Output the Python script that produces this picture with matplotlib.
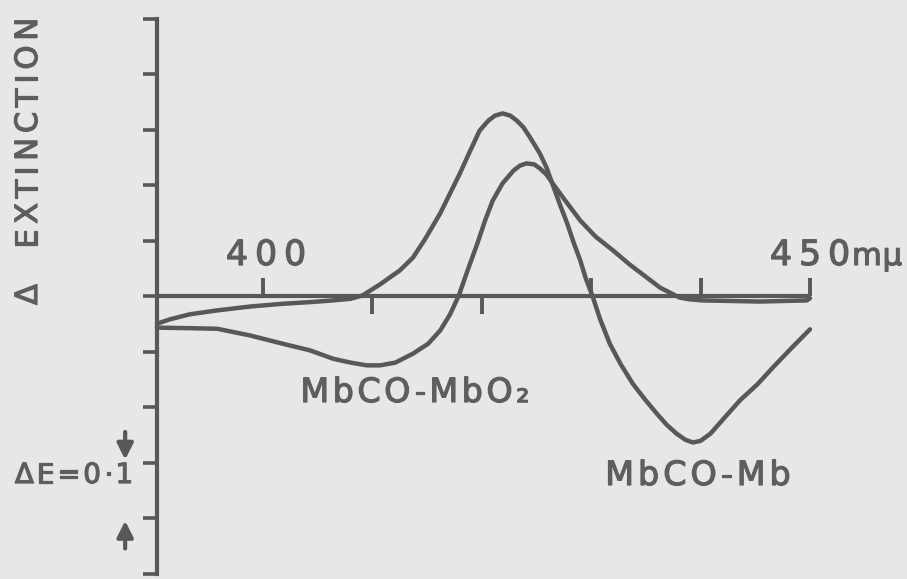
import matplotlib
matplotlib.use("Agg")
import matplotlib.pyplot as plt
from matplotlib.font_manager import FontProperties
from matplotlib.transforms import IdentityTransform
import matplotlib.patheffects as pe
import numpy as np

# ---- data ----
wl_mbo2 = [390.3, 393.3, 395.8, 398.8, 401.8, 404.3, 406.4, 408.0, 409.5, 410.7,
           412.1, 413.7, 415.1, 416.2, 417.1, 417.9, 418.7, 419.6, 420.3, 421.0,
           421.9, 422.9, 423.5, 424.1, 424.8, 425.3, 425.9, 426.4, 427.7, 429.0,
           430.4, 432.0, 433.5, 435.1, 436.3, 437.2, 438.1, 439.0, 440.2, 445.4,
           449.7, 450.0]
val_mbo2 = [-0.057, -0.058, -0.059, -0.071, -0.086, -0.098, -0.113, -0.120, -0.125, -0.125,
            -0.120, -0.104, -0.086, -0.062, -0.033, 0.001, 0.046, 0.095, 0.136, 0.172,
            0.203, 0.226, 0.235, 0.239, 0.237, 0.230, 0.219, 0.205, 0.170, 0.136,
            0.107, 0.082, 0.057, 0.033, 0.015, 0.006, -0.003, -0.006, -0.008, -0.010,
            -0.008, -0.004]

wl_mb = [390.3, 391.5, 393.3, 395.8, 398.8, 401.8, 404.3, 406.4, 408.0, 409.1,
         410.7, 412.5, 413.7, 414.8, 416.2, 417.1, 418.0, 418.9, 419.8, 420.6,
         421.2, 421.9, 422.6, 423.2, 423.8, 424.4, 425.3, 425.9, 426.4, 427.1,
         427.8, 428.4, 429.0, 429.5, 430.1, 430.8, 431.7, 432.7, 433.8, 434.9,
         436.0, 436.9, 437.8, 438.6, 439.3, 440.0, 440.9, 442.2, 443.6, 445.2,
         446.6, 448.2, 450.0]
val_mb = [-0.050, -0.042, -0.033, -0.026, -0.019, -0.014, -0.011, -0.008, -0.005, 0.001,
          0.021, 0.046, 0.069, 0.102, 0.149, 0.185, 0.221, 0.260, 0.298, 0.316,
          0.325, 0.329, 0.325, 0.316, 0.304, 0.286, 0.257, 0.232, 0.205, 0.167,
          0.131, 0.096, 0.064, 0.032, 0.001, -0.041, -0.086, -0.123, -0.158, -0.186,
          -0.212, -0.232, -0.248, -0.259, -0.264, -0.261, -0.248, -0.219, -0.188, -0.159,
          -0.129, -0.096, -0.060]

tick_wl = [400, 410, 420, 430, 440, 450]
tick_dir = [1, -1, -1, 1, 1, 1]
y_ticks = np.round(np.arange(-0.5, 0.501, 0.1), 2)

BG = "#e7e7e5"
INK = "#585858"
TXT = "#5e5e5e"

W, H = 907, 579
fig = plt.figure(figsize=(W / 100, H / 100), dpi=100)
fig.patch.set_facecolor(BG)
ax = fig.add_axes([157 / W, 5.5 / H, 653 / W, 555 / H])
ax.set_facecolor("none")
ax.set_xlim(390.31, 450)
ax.set_ylim(-0.5, 0.5)
for s in ["top", "right", "bottom"]:
    ax.spines[s].set_visible(False)
ax.spines["left"].set_color(INK)
ax.spines["left"].set_linewidth(3.0)
ax.set_yticks(y_ticks)
ax.set_yticklabels([])
ax.tick_params(axis="y", direction="out", length=10, width=2.6, color=INK)
ax.set_xticks([])

# horizontal zero axis and its ticks
ax.axhline(0, color=INK, lw=3.0, clip_on=False, solid_capstyle="butt")
for w, d in zip(tick_wl, tick_dir):
    ax.plot([w, w], [0, d * 0.032], color=INK, lw=2.8, clip_on=False,
            solid_capstyle="butt")

# curves
kw = dict(color=INK, lw=3.2, clip_on=False, solid_capstyle="round",
          solid_joinstyle="round")
ax.plot(wl_mbo2, val_mbo2, **kw)
ax.plot(wl_mb, val_mb, **kw)

# ---- text with letter spacing ----
renderer = fig.canvas.get_renderer()
thick = [pe.withStroke(linewidth=0.9, foreground=TXT)]


def tracked(cx, y, s, size, track, rotation=0, align="center"):
    fp = FontProperties(family="DejaVu Sans", size=size)
    widths = [renderer.get_text_width_height_descent(ch, fp, ismath=False)[0]
              for ch in s]
    total = sum(widths) + track * (len(s) - 1)
    pos = cx - total / 2 if align == "center" else cx
    for ch, wd in zip(s, widths):
        if rotation == 0:
            fig.text(pos, y, ch, fontproperties=fp, color=TXT,
                     ha="left", va="baseline", transform=IdentityTransform(),
                     path_effects=thick)
        else:
            fig.text(y, pos, ch, fontproperties=fp, color=TXT, rotation=90,
                     rotation_mode="anchor", ha="left", va="baseline",
                     transform=IdentityTransform(), path_effects=thick)
        pos += wd + track


tracked(266, 314, "400", 25, 7)
tracked(810, 314, "450", 25, 7)
tracked(852, 314, "mμ", 22, 1, align="left")
tracked(415, 177, "MbCO-MbO₂", 24, 3.5)
tracked(698, 94, "MbCO-Mb", 24, 4)
tracked(74, 96, "ΔE=0·1", 20, 2.8)
tracked(274, 37, "Δ", 22, 0, rotation=90, align="left")
tracked(331, 37, "EXTINCTION", 22, 4.9, rotation=90, align="left")

# arrows for the ΔE scale bar
arrow = dict(arrowstyle="-|>", color=INK, lw=3, mutation_scale=24,
             shrinkA=0, shrinkB=0)
ax.annotate("", xy=(387.4, y_ticks[2] + 0.005), xytext=(387.4, y_ticks[2] + 0.055),
            arrowprops=arrow, annotation_clip=False)
ax.annotate("", xy=(387.4, y_ticks[1] - 0.005), xytext=(387.4, y_ticks[1] - 0.055),
            arrowprops=arrow, annotation_clip=False)

fig.savefig("out.png", dpi=100, facecolor=BG)
